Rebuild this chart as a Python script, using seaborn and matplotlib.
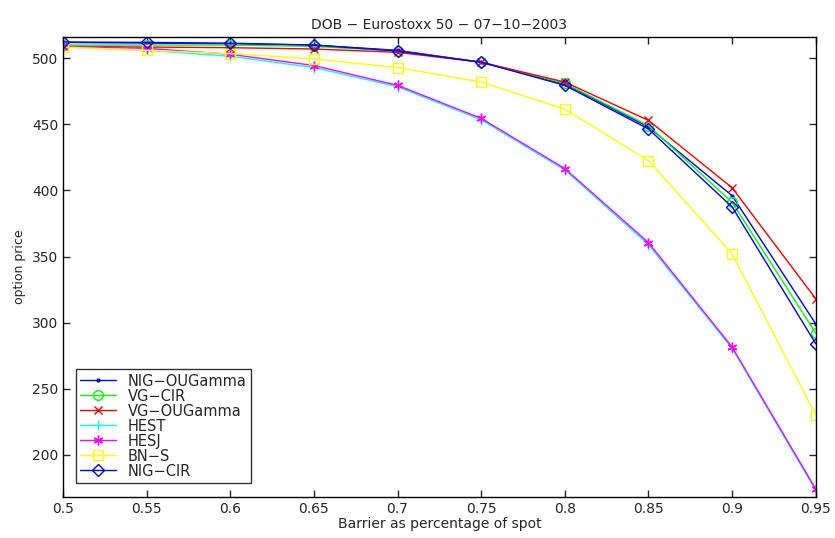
import numpy as np
import pandas as pd
import matplotlib
matplotlib.use("Agg")
import matplotlib.pyplot as plt
import seaborn as sns

barrier = [0.5, 0.55, 0.6, 0.65, 0.7, 0.75, 0.8, 0.85, 0.9, 0.95]

nig_ougamma = [512, 511.5, 511, 510, 506, 497, 480.5, 448, 396, 299]
vg_cir = [510, 510, 510, 509, 505.5, 497, 481, 449, 391, 292]
vg_ougamma = [509, 508.5, 508, 507, 504.5, 497, 482, 453, 402, 318]
hest = [508.5, 506, 501.5, 493, 478.5, 453.5, 415.5, 359, 280.5, 173]
hesj = [509, 507.5, 503, 494.5, 479.5, 454.5, 416.5, 360.5, 281.5, 174]
bn_s = [508.5, 506, 503.5, 499.5, 493, 482, 461.5, 422.5, 352, 230]
nig_cir = [512.3, 512, 511.4, 510, 505.5, 497, 479.5, 446.5, 387.5, 284]

# name, values, colour, marker, marker size
series = [
    ("NIG\u2212OUGamma", nig_ougamma, "blue", ".", 4),
    ("VG\u2212CIR", vg_cir, "#00ff00", "o", 7),
    ("VG\u2212OUGamma", vg_ougamma, "red", "x", 6),
    ("HEST", hest, "cyan", "+", 7),
    ("HESJ", hesj, "magenta", (6, 2, 0), 7),
    ("BN\u2212S", bn_s, "yellow", "s", 7),
    ("NIG\u2212CIR", nig_cir, "blue", "D", 6),
]

sns.set_style("ticks")
plt.rcParams["font.family"] = ["DejaVu Sans"]

fig = plt.figure(figsize=(8.35, 5.38), dpi=100)
ax = fig.add_axes([0.0754, 0.076, 0.9016, 0.855])

for name, vals, col, mk, ms in series:
    df = pd.DataFrame({"barrier": barrier, "price": vals})
    hollow = mk in ("o", "s", "D")
    sns.lineplot(data=df, x="barrier", y="price", ax=ax, color=col, marker=mk,
                 markersize=ms, markerfacecolor="none" if hollow else col,
                 markeredgecolor=col, markeredgewidth=1, linewidth=1, label=name)

ax.set_xlim(0.5, 0.95)
ax.set_ylim(168, 516)
ax.set_xticks(barrier)
ax.set_xticklabels(["0.5", "0.55", "0.6", "0.65", "0.7", "0.75", "0.8", "0.85", "0.9", "0.95"])
ax.set_yticks([200, 250, 300, 350, 400, 450, 500])
ax.tick_params(direction="in", top=True, right=True, labelsize=10, length=5, width=1)
for sp in ax.spines.values():
    sp.set_visible(True)
    sp.set_linewidth(1)
    sp.set_color("black")

ax.set_xlabel("Barrier as percentage of spot", fontsize=10, labelpad=1)
ax.set_ylabel("option price", fontsize=9, labelpad=4)
ax.set_title("DOB \u2212 Eurostoxx 50 \u2212 07\u221210\u22122003", fontsize=10, pad=6)

leg = ax.legend(loc="lower left", fontsize=10.5, frameon=True, fancybox=False,
                edgecolor="black", borderpad=0.3, labelspacing=0.0,
                handlelength=2.5, bbox_to_anchor=(0.007, 0.015))
leg.get_frame().set_linewidth(1)

fig.savefig("out.png", dpi=100)
